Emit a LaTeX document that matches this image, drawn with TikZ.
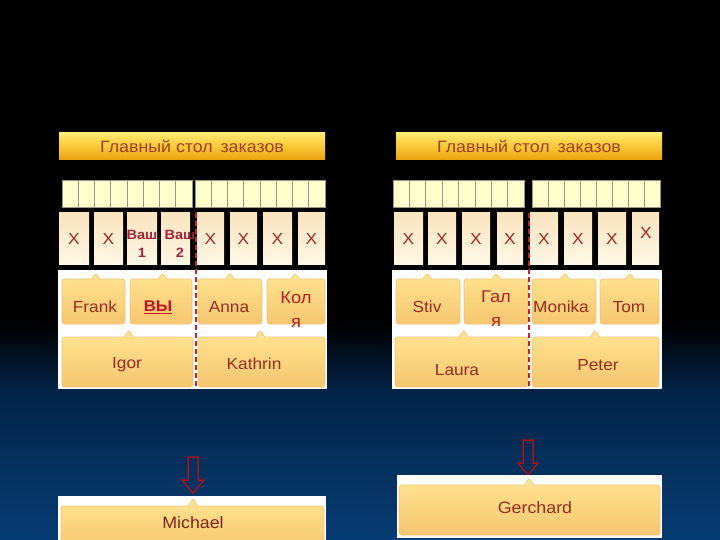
\documentclass[tikz,border=0pt]{standalone}
\usepackage{fontspec}
\setmainfont{Liberation Sans}[FakeStretch=1.08]
\usetikzlibrary{shapes.callouts}
\definecolor{navyA}{RGB}{4,36,72}
\definecolor{navyB}{RGB}{6,60,115}
\definecolor{hdTop}{RGB}{255,232,110}
\definecolor{hdMid}{RGB}{250,200,55}
\definecolor{hdBot}{RGB}{232,160,15}
\definecolor{hdText}{RGB}{160,62,32}
\definecolor{cellFill}{RGB}{255,255,206}
\definecolor{cellLine}{RGB}{150,150,130}
\definecolor{xTop}{RGB}{250,228,192}
\definecolor{xBot}{RGB}{255,247,228}
\definecolor{xText}{RGB}{160,40,35}
\definecolor{vashText}{RGB}{160,38,58}
\definecolor{vyText}{RGB}{195,20,30}
\definecolor{cbTop}{RGB}{255,228,145}
\definecolor{cbBot}{RGB}{245,198,112}
\definecolor{cbEdge}{RGB}{236,196,120}
\definecolor{nmText}{RGB}{150,45,30}
\definecolor{ruText}{RGB}{178,35,35}
\definecolor{dashRed}{RGB}{195,35,40}
\definecolor{arrRed}{RGB}{165,20,25}
\begin{document}
\begin{tikzpicture}[x=1pt,y=-1pt,
  hdr/.style={rectangle, minimum width=266pt, minimum height=27pt, inner sep=0pt,
    top color=hdTop, bottom color=hdBot, middle color=hdMid, text=hdText,
    font=\fontsize{16.5}{18}\selectfont},
  cell/.style={fill=cellFill, draw=cellLine, line width=1pt},
  xbox/.style={rectangle, minimum height=51pt, inner sep=0pt,
    top color=xTop, bottom color=xBot, text=xText,
    font=\fontsize{16}{18}\selectfont},
  cbox/.style={rectangle callout, rounded corners=2.5pt, top color=cbTop,
    bottom color=cbBot, draw=cbEdge, line width=0.6pt,
    callout pointer width=9pt, inner sep=0pt},
  nm/.style={text=nmText, inner sep=0pt, font=\fontsize{16}{18}\selectfont},
  ru/.style={text=ruText, inner sep=0pt, align=center,
    font=\fontsize{17}{24}\selectfont},
  vash/.style={text=vashText, inner sep=0pt, align=center,
    font=\fontsize{13.5}{18}\selectfont\bfseries},
  dashline/.style={draw=dashRed, line width=1.4pt, dash pattern=on 5pt off 3pt},
  harrow/.style={draw=arrRed, line width=1.5pt, line join=miter},
  panel/.style={fill=white}
]
\useasboundingbox (0,0) rectangle (720,540);
\clip (0,0) rectangle (720,540);
% background
\fill[black] (0,0) rectangle (720,324);
\shade[top color=black, bottom color=navyA] (0,323) rectangle (720,392);
\shade[top color=navyA, bottom color=navyB] (0,391) rectangle (720,540);

% headers
\node[hdr] (hdrL) at (192,146.5) {Главный стол\, заказов};
\node[hdr] (hdrR) at (529,146.5) {Главный стол\, заказов};

% cell strips
\foreach \i in {0,...,7} {
  \draw[cell] (62+\i*16.25,181) rectangle ++(16.25,27);
  \draw[cell] (195+\i*16.25,181) rectangle ++(16.25,27);
  \draw[cell] (393+\i*16.4,181) rectangle ++(16.4,27);
  \draw[cell] (532+\i*16,181) rectangle ++(16,27);
}

% X boxes left
\node[xbox, minimum width=30pt] (xl1) at (74,238.5) {X};
\node[xbox, minimum width=29pt] (xl2) at (108.5,238.5) {X};
\node[xbox, minimum width=30pt] (xl3) at (142,238.5) {};
\node[xbox, minimum width=29pt] (xl4) at (175.5,238.5) {};
\node[xbox, minimum width=27pt] (xl5) at (210.5,238.5) {X};
\node[xbox, minimum width=27pt] (xl6) at (243.5,238.5) {X};
\node[xbox, minimum width=29pt] (xl7) at (277.5,238.5) {X};
\node[xbox, minimum width=27pt] (xl8) at (311.5,238.5) {X};
\node[vash] (vash1) at (142,244) {Ваш\\1};
\node[vash] (vash2) at (180,244) {Ваш\\2};

% X boxes right
\node[xbox, minimum width=29pt] (xr1) at (408.5,238.5) {X};
\node[xbox, minimum width=28pt] (xr2) at (442,238.5) {X};
\node[xbox, minimum width=28pt] (xr3) at (476,238.5) {X};
\node[xbox, minimum width=26pt] (xr4) at (510,238.5) {X};
\node[xbox, minimum width=28pt] (xr5) at (544,238.5) {X};
\node[xbox, minimum width=28pt] (xr6) at (578,238.5) {X};
\node[xbox, minimum width=28pt] (xr7) at (612,238.5) {X};
\node[xbox, minimum width=27pt] (xr8) at (645.5,238.5) {};
\node[text=xText, inner sep=0pt, font=\fontsize{16}{18}\selectfont] (xr8t) at (646,232.5) {X};

% white panels
\fill[panel] (58,270) rectangle (327,389);
\fill[panel] (392,270) rectangle (662,389);

% left callouts
\node[cbox, minimum width=63pt, minimum height=45pt, callout absolute pointer={(96,273)}] (frank) at (93.5,301.5) {};
\node[cbox, minimum width=62pt, minimum height=45pt, callout absolute pointer={(163,273)}] (vy) at (161,301.5) {};
\node[cbox, minimum width=64pt, minimum height=45pt, callout absolute pointer={(230,273)}] (anna) at (230,301.5) {};
\node[cbox, minimum width=58pt, minimum height=45pt, callout absolute pointer={(295,273)}] (kolya) at (296,301.5) {};
\node[cbox, minimum width=131pt, minimum height=50pt, callout absolute pointer={(129,330)}] (igor) at (127.5,362) {};
\node[cbox, minimum width=127pt, minimum height=50pt, callout absolute pointer={(260,330)}] (kathrin) at (261.5,362) {};

% right callouts
\node[cbox, minimum width=64pt, minimum height=45pt, callout absolute pointer={(427,273)}] (stiv) at (428,301.5) {};
\node[cbox, minimum width=64pt, minimum height=45pt, callout absolute pointer={(496,273)}] (galya) at (496,301.5) {};
\node[cbox, minimum width=64pt, minimum height=45pt, callout absolute pointer={(565,273)}] (monika) at (564,301.5) {};
\node[cbox, minimum width=59pt, minimum height=45pt, callout absolute pointer={(630,273)}] (tom) at (629.5,301.5) {};
\node[cbox, minimum width=133pt, minimum height=50pt, callout absolute pointer={(464,330)}] (laura) at (461.5,362) {};
\node[cbox, minimum width=127pt, minimum height=50pt, callout absolute pointer={(595,330)}] (peter) at (595.5,362) {};

% names
\node[nm] (frankT) at (95,307) {Frank};
\node[text=vyText, inner sep=0pt, font=\fontsize{15.5}{18}\selectfont\bfseries] (vyT) at (158,307) {\underline{ВЫ}};
\node[nm] (annaT) at (229,307) {Anna};
\node[ru] (kolyaT) at (296,309.5) {Кол\\я};
\node[nm] (igorT) at (127,365) {Igor};
\node[nm] (kathrinT) at (254,364) {Kathrin};
\node[nm] (stivT) at (427,307) {Stiv};
\node[ru] (galyaT) at (496,309) {Гал\\я};
\node[nm] (monikaT) at (561,307) {Monika};
\node[nm] (tomT) at (629,307) {Tom};
\node[nm] (lauraT) at (457,370) {Laura};
\node[nm] (peterT) at (598,365) {Peter};

% dashed dividers
\draw[dashline] (196,213) -- (196,389);
\draw[dashline] (529,213) -- (529,389);

% bottom left
\draw[harrow] (188,457) -- (198,457) -- (198,480) -- (204,480) -- (193,493) -- (182,480) -- (188,480) -- cycle;
\fill[panel] (58,496) rectangle (326,545);
\node[cbox, minimum width=263pt, minimum height=44pt, callout absolute pointer={(193,498)}] (michael) at (192.5,528) {};
\node[nm, text=nmText!85!black, font=\fontsize{16.5}{18}\selectfont] (michaelT) at (193,523) {Michael};

% bottom right
\draw[harrow] (523,440) -- (533,440) -- (533,463) -- (538,463) -- (528,475) -- (518,463) -- (523,463) -- cycle;
\fill[panel] (397,475) rectangle (662,538);
\node[cbox, minimum width=261pt, minimum height=50pt, callout absolute pointer={(529,478)}] (gerchard) at (529.5,510) {};
\node[nm, font=\fontsize{16.5}{18}\selectfont] (gerchardT) at (535,508) {Gerchard};
\end{tikzpicture}
\end{document}
